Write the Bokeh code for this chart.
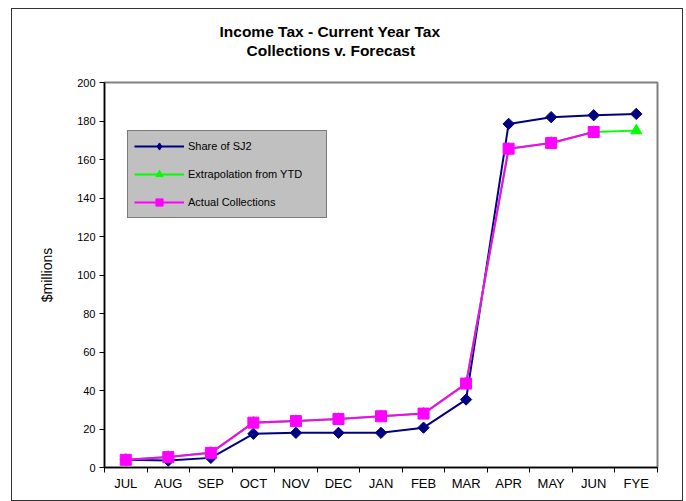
import math
from bokeh.plotting import figure
from bokeh.models import (Range1d, FixedTicker, Legend, LegendItem, Title)
from bokeh.embed import file_html
from bokeh.resources import INLINE

months = ["JUL", "AUG", "SEP", "OCT", "NOV", "DEC", "JAN", "FEB", "MAR",
          "APR", "MAY", "JUN", "FYE"]
share_sj2 = [4, 3.6, 5, 17.5, 18, 18, 18, 20.7, 35.3, 178.5, 182, 183, 183.7]
extrapolation = [4, 5.4, 7.6, 23.3, 24.1, 25.2, 26.6, 28, 43.6, 165.6, 168.6, 174.3, 175]
actual = [4, 5.4, 7.6, 23.3, 24.1, 25.2, 26.6, 28, 43.6, 165.6, 168.6, 174.3]
y_ticks = [0, 20, 40, 60, 80, 100, 120, 140, 160, 180, 200]
title_line1 = "Income Tax - Current Year Tax"
title_line2 = "Collections v. Forecast"

FONT = "Liberation Sans"
xs = list(range(len(months)))

p = figure(width=672, height=493, output_backend="svg", toolbar_location=None,
           x_range=Range1d(-0.5, len(months) - 0.5), y_range=Range1d(0, 200),
           min_border_left=92, min_border_right=27, min_border_top=73,
           min_border_bottom=35, background_fill_color="white",
           border_fill_color="white")
p.styles = {"border": "1px solid #333333", "box-sizing": "border-box",
            "margin-left": "11px", "margin-top": "8px"}
p.outline_line_color = "#808080"
p.outline_line_width = 2
p.grid.visible = False

# x axis
p.xaxis.ticker = FixedTicker(ticks=xs, minor_ticks=[i - 0.5 for i in range(len(months) + 1)])
p.xaxis.major_label_overrides = {i: m for i, m in enumerate(months)}
p.xaxis.major_tick_line_color = None
p.xaxis.major_tick_out = 0
p.xaxis.major_tick_in = 0
p.xaxis.minor_tick_line_color = "black"
p.xaxis.minor_tick_out = 5
p.xaxis.minor_tick_in = 0
p.xaxis.major_label_standoff = 3
p.xaxis.major_label_text_font = FONT
p.xaxis.major_label_text_font_size = "13px"
p.xaxis.major_label_text_color = "black"
p.xaxis.axis_line_color = "black"
p.xaxis.axis_line_width = 1.5

# y axis
p.yaxis.ticker = FixedTicker(ticks=y_ticks, minor_ticks=[])
p.yaxis.major_tick_out = 5
p.yaxis.major_tick_in = 0
p.yaxis.major_tick_line_color = "black"
p.yaxis.minor_tick_line_color = None
p.yaxis.major_label_standoff = 4
p.yaxis.major_label_text_font = FONT
p.yaxis.major_label_text_font_size = "11px"
p.yaxis.major_label_text_color = "black"
p.yaxis.axis_line_color = "black"
p.yaxis.axis_line_width = 1.5
p.yaxis.axis_label = "$millions"
p.yaxis.axis_label_text_font = FONT
p.yaxis.axis_label_text_font_style = "normal"
p.yaxis.axis_label_text_font_size = "14px"
p.yaxis.axis_label_text_color = "black"
p.yaxis.axis_label_standoff = 19

navy = "#000080"
green = "#00FF00"
magenta = "#FF00FF"

r1 = p.line(xs, share_sj2, line_color=navy, line_width=2)
r1m = p.scatter(xs, share_sj2, marker="square", angle=math.pi / 4, size=8,
                fill_color=navy, line_color=navy)
r2 = p.line(xs, extrapolation, line_color=green, line_width=2)
r2m = p.scatter(xs, extrapolation, marker="triangle", size=11, fill_color=green, line_color=green)
xa = xs[:len(actual)]
r3 = p.line(xa, actual, line_color=magenta, line_width=2)
r3m = p.scatter(xa, actual, marker="square", size=11, fill_color=magenta, line_color=magenta)

# legend-only diamond glyph (not drawn in the plot area)
r1_leg = p.scatter([float("nan")], [float("nan")], marker="diamond", size=12,
                   fill_color=navy, line_color=navy)

legend = Legend(items=[
    LegendItem(label="Share of SJ2", renderers=[r1, r1_leg]),
    LegendItem(label="Extrapolation from YTD", renderers=[r2, r2m]),
    LegendItem(label="Actual Collections", renderers=[r3, r3m]),
], location=(23, 249))
legend.background_fill_color = "#C0C0C0"
legend.background_fill_alpha = 1
legend.border_line_color = "#333333"
legend.border_line_width = 1
legend.padding = 6
legend.spacing = 10
legend.glyph_height = 18
legend.glyph_width = 50
legend.label_standoff = 4
legend.label_width = 132
legend.label_height = 18
legend.label_text_font = FONT
legend.label_text_font_size = "11px"
legend.label_text_color = "black"
legend.margin = 0
p.add_layout(legend, "center")

# spacer between the frame and the two title lines
spacer = Title(text=" ", text_font_size="1px", standoff=21)
t2 = Title(text=title_line2, align="left", offset=142, text_font=FONT,
           text_font_style="bold", text_font_size="15.5px", text_color="black",
           standoff=0)
t1 = Title(text=title_line1, align="left", offset=115, text_font=FONT,
           text_font_style="bold", text_font_size="15.5px", text_color="black",
           standoff=0)
p.add_layout(spacer, "above")
p.add_layout(t2, "above")
p.add_layout(t1, "above")

open("out.html", "w").write(file_html(p, INLINE))
